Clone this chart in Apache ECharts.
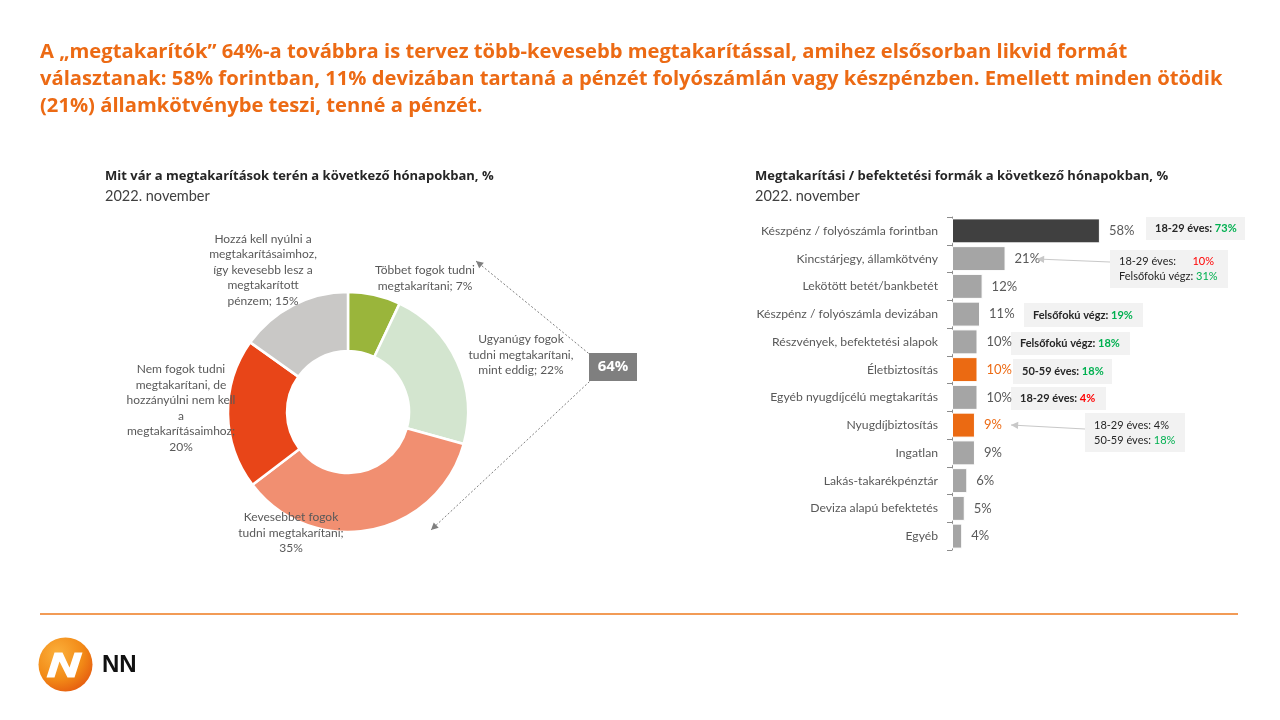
<!DOCTYPE html>
<html><head><meta charset="utf-8">
<script src="https://cdn.jsdelivr.net/npm/echarts@6/dist/echarts.min.js"></script>
<style>html,body{margin:0;padding:0;background:#fff}#c{width:1280px;height:720px}</style>
</head><body><div id="c"></div>
<script>
// ---------- DATA ----------
const headline = [
  'A „megtakarítók” 64%-a továbbra is tervez több-kevesebb megtakarítással, amihez elsősorban likvid formát',
  'választanak: 58% forintban, 11% devizában tartaná a pénzét folyószámlán vagy készpénzben. Emellett minden ötödik',
  '(21%) államkötvénybe teszi, tenné a pénzét.'
];
const leftTitle = 'Mit vár a megtakarítások terén a következő hónapokban, %';
const rightTitle = 'Megtakarítási / befektetési formák a következő hónapokban, %';
const subTitle = '2022. november';

const donutNames = [
  'Többet fogok tudni\nmegtakarítani',
  'Ugyanúgy fogok\ntudni megtakarítani,\nmint eddig',
  'Kevesebbet fogok\ntudni megtakarítani',
  'Nem fogok tudni\nmegtakarítani, de\nhozzányúlni nem kell\na\nmegtakarításaimhoz',
  'Hozzá kell nyúlni a\nmegtakarításaimhoz,\nígy kevesebb lesz a\nmegtakarított\npénzem'
];
const donutValues = [7, 22, 35, 20, 15];
const donutTotalLabel = '64%';

const barCategories = [
  'Készpénz / folyószámla forintban',
  'Kincstárjegy, államkötvény',
  'Lekötött betét/bankbetét',
  'Készpénz / folyószámla devizában',
  'Részvények, befektetési alapok',
  'Életbiztosítás',
  'Egyéb nyugdíjcélú megtakarítás',
  'Nyugdíjbiztosítás',
  'Ingatlan',
  'Lakás-takarékpénztár',
  'Deviza alapú befektetés',
  'Egyéb'
];
const barValues = [58, 21, 12, 11, 10, 10, 10, 9, 9, 6, 5, 4];
const highlighted = ['Életbiztosítás', 'Nyugdíjbiztosítás'];

const noteGroups = ['18-29 éves:', 'Felsőfokú végz:', '50-59 éves:'];
const noteValues = ['73%', '10%', '31%', '19%', '18%', '18%', '4%', '4%', '18%'];

// ---------- STYLE / LAYOUT ----------
const FONT = 'Lato, "Open Sans", sans-serif';
const HFONT = '"Open Sans", Lato, sans-serif';
const ORANGE = '#EC6A14';
const GREY_TXT = '#595959';
const DARK = '#262626';
const GREEN = '#00B050';
const RED = '#FF0000';
const donutColors = ['#9AB53B', '#D3E5CF', '#F18F71', '#E84518', '#C9C8C6'];
const donutLabelPos = [[425, 278], [521, 355], [291, 533], [181, 408], [263, 270]];
const donutBreakAfterSemi = [false, false, true, true, false];

const chart = echarts.init(document.getElementById('c'), null, {renderer: 'canvas'});

function arrowHead(x, y, angle, color, size) {
  const s = size || 7;
  const a1 = angle + Math.PI * 0.85, a2 = angle - Math.PI * 0.85;
  return {type: 'polygon', z: 10, shape: {points: [[x, y], [x + s * Math.cos(a1), y + s * Math.sin(a1)], [x + s * Math.cos(a2), y + s * Math.sin(a2)]]}, style: {fill: color}};
}
function arrowLine(x1, y1, x2, y2, color, dash, w) {
  const ang = Math.atan2(y2 - y1, x2 - x1);
  return [
    {type: 'line', z: 9, shape: {x1, y1, x2, y2}, style: {stroke: color, lineWidth: w || 1, lineDash: dash || null}},
    arrowHead(x2, y2, ang, color, 8)
  ];
}
function noteBox(x, y, w, h, lines, weight) {
  const children = [{type: 'rect', shape: {x: 0, y: 0, width: w, height: h}, style: {fill: '#F2F2F2'}}];
  const lh = 15;
  const startY = h / 2 - (lines.length - 1) * lh / 2;
  lines.forEach((ln, i) => {
    children.push({type: 'text', x: 9, y: startY + i * lh, style: {
      text: '{d|' + ln[0] + '}' + (ln[2] === undefined ? ' {' + ln[1] + '|' + ln[3] + '}' : ''),
      verticalAlign: 'middle', font: weight + ' 11px ' + FONT,
      rich: {
        d: {fill: DARK, fontWeight: weight, fontSize: 11, fontFamily: FONT},
        g: {fill: GREEN, fontWeight: weight, fontSize: 11, fontFamily: FONT},
        r: {fill: RED, fontWeight: weight, fontSize: 11, fontFamily: FONT}
      }
    }});
    if (ln[2] !== undefined) {
      children.push({type: 'text', x: ln[2], y: startY + i * lh, style: {
        text: ln[3], verticalAlign: 'middle', align: 'right', fill: ln[1] === 'g' ? GREEN : (ln[1] === 'r' ? RED : DARK),
        font: weight + ' 11px ' + FONT}});
    }
  });
  return {type: 'group', x, y, children};
}

const graphics = [
  {type: 'text', left: 40, top: 39, style: {text: headline.join('\n'), fill: ORANGE, font: 'bold 20.2px ' + HFONT, lineHeight: 27}},
  {type: 'text', left: 105, top: 170, style: {text: leftTitle, fill: DARK, font: 'bold 13px ' + HFONT}},
  {type: 'text', left: 105, top: 189, style: {text: subTitle, fill: '#404040', font: '14.5px ' + FONT}},
  {type: 'text', left: 755, top: 170, style: {text: rightTitle, fill: DARK, font: 'bold 13px ' + HFONT}},
  {type: 'text', left: 755, top: 189, style: {text: subTitle, fill: '#404040', font: '14.5px ' + FONT}},
  ...arrowLine(604, 366, 476, 261, '#7F7F7F', [2, 2]),
  ...arrowLine(604, 368, 431, 530, '#7F7F7F', [2, 2]),
  {type: 'rect', z: 11, shape: {x: 589, y: 353, width: 48, height: 28}, style: {fill: '#7F7F7F'}},
  {type: 'text', z: 12, x: 613, y: 367, style: {text: donutTotalLabel, fill: '#fff', font: 'bold 15px ' + HFONT, align: 'center', verticalAlign: 'middle'}},
  noteBox(1146, 217, 99, 23, [[noteGroups[0], 'g', undefined, noteValues[0]]], 'bold'),
  noteBox(1110, 250, 118, 38, [[noteGroups[0], 'r', 104, noteValues[1]], [noteGroups[1], 'g', undefined, noteValues[2]]], 'normal'),
  noteBox(1024, 303, 119, 24, [[noteGroups[1], 'g', undefined, noteValues[3]]], 'bold'),
  noteBox(1011, 332, 119, 23, [[noteGroups[1], 'g', undefined, noteValues[4]]], 'bold'),
  noteBox(1013, 359, 99, 25, [[noteGroups[2], 'g', undefined, noteValues[5]]], 'bold'),
  noteBox(1011, 387, 95, 23, [[noteGroups[0], 'r', undefined, noteValues[6]]], 'bold'),
  noteBox(1085, 413, 100, 39, [[noteGroups[0], 'd', undefined, noteValues[7]], [noteGroups[2], 'g', undefined, noteValues[8]]], 'normal'),
  ...arrowLine(1110, 262, 1037, 259, '#C8C8C8', null, 1),
  ...arrowLine(1085, 429, 1011, 425, '#C8C8C8', null, 1),
  {type: 'line', shape: {x1: 40, y1: 614, x2: 1238, y2: 614}, style: {stroke: '#EE7A1E', lineWidth: 1.5}},
  {type: 'circle', shape: {cx: 65.5, cy: 664.5, r: 27}, style: {fill: new echarts.graphic.RadialGradient(0.35, 0.3, 0.8, [{offset: 0, color: '#FBB03B'}, {offset: 0.6, color: '#F28A17'}, {offset: 1, color: '#E4570F'}])}},
  {type: 'polygon', x: 65.5, y: 664.5, shape: {points: [[-19, 13], [-11, -12], [-3, -12], [4, 3], [9, -12], [17, -12], [9, 13], [2, 13], [-6, -3], [-11, 13]]}, style: {fill: '#fff'}},
  {type: 'text', x: 102, y: 665, style: {text: 'NN', fill: '#111', font: 'bold 24px "Liberation Sans", Arial, sans-serif', verticalAlign: 'middle'}}
];

const option = {
  backgroundColor: '#fff',
  animation: false,
  graphic: graphics,
  grid: {left: 952, width: 255, top: 217, bottom: 170},
  xAxis: {type: 'value', min: 0, max: 100, show: false},
  yAxis: {
    type: 'category', data: barCategories, inverse: true,
    axisLine: {show: true, lineStyle: {color: '#8C8C8C', width: 1}},
    axisTick: {show: true, length: 5, interval: 0, lineStyle: {color: '#8C8C8C'}},
    axisLabel: {color: GREY_TXT, fontSize: 12.2, fontFamily: FONT, margin: 14, interval: 0}
  },
  series: [
    {
      type: 'pie', center: [348, 412], radius: [61, 120], startAngle: 90, clockwise: true,
      itemStyle: {borderColor: '#fff', borderWidth: 2.5},
      label: {
        show: true, position: 'outside', color: GREY_TXT, fontSize: 12, fontFamily: FONT, lineHeight: 15.5, align: 'center',
        formatter: p => p.name + ';' + (donutBreakAfterSemi[p.dataIndex] ? '\n' : ' ') + p.value + '%'
      },
      labelLine: {show: false},
      labelLayout: p => ({x: donutLabelPos[p.dataIndex][0], y: donutLabelPos[p.dataIndex][1], align: 'center', verticalAlign: 'middle'}),
      emphasis: {disabled: true},
      data: donutNames.map((n, i) => ({name: n, value: donutValues[i], itemStyle: {color: donutColors[i]}}))
    },
    {
      type: 'bar', barCategoryGap: '10%',
      data: barValues.map((v, i) => {
        const hi = highlighted.includes(barCategories[i]);
        const col = i === 0 ? '#404040' : (hi ? '#EB6A12' : '#A5A5A5');
        return {value: v, itemStyle: {color: col}, label: {color: hi ? ORANGE : GREY_TXT}};
      }),
      itemStyle: {borderColor: '#fff', borderWidth: 1},
      label: {show: true, position: 'right', distance: 9, fontSize: 13, fontFamily: FONT, formatter: '{c}%'},
      emphasis: {disabled: true}
    }
  ]
};
chart.setOption(option);
</script>
</body></html>
